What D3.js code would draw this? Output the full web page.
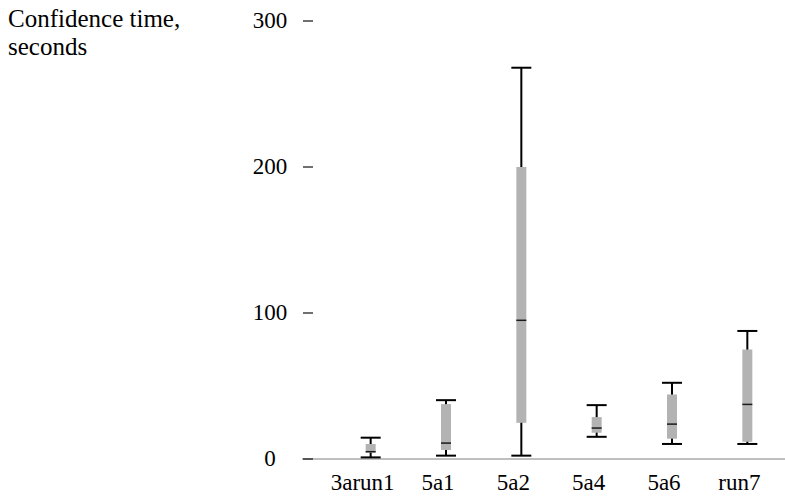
<!DOCTYPE html>
<html lang="en">
  <head>
    <meta charset="UTF-8" />
    <title>Confidence time box plot</title>
    <script src="https://d3js.org/d3.v7.min.js"></script>
    <style>
      body {
        margin: 0;
        background: #fff;
      }
      svg {
        display: block;
      }
    </style>
  </head>
  <body>
    <svg id="chart" width="785" height="498"></svg>

    <script>
      // data
      const categories = ["3arun1", "5a1", "5a2", "5a4", "5a6", "run7"];
      const whiskerLow = [1.1, 2.3, 2.3, 15.2, 10.3, 10.3];
      const q1 = [4.3, 6.2, 24.8, 18, 13.9, 11.8];
      const median = [5, 10.9, 95, 21.2, 23.9, 37.4];
      const q3 = [10.3, 37.6, 200, 28.7, 44.2, 75];
      const whiskerHigh = [14.6, 40.3, 268, 36.9, 52.2, 87.7];
      const yTicks = [0, 100, 200, 300];

      const FONT = "'Liberation Serif', 'Times New Roman', Times, serif";

      const svg = d3.select("#chart");

      const x = d3.scaleBand().domain(categories).range([333, 785]).padding(0);
      const y = d3.scaleLinear().domain([0, 300]).range([459, 21]);

      const rows = categories.map((c, i) => ({
        cat: c,
        lo: whiskerLow[i],
        q1: q1[i],
        med: median[i],
        q3: q3[i],
        hi: whiskerHigh[i],
      }));

      const cx = (d) => x(d.cat) + x.bandwidth() / 2;
      const boxW = 10;
      const capW = 20;

      function label(sel, size = 23) {
        sel
          .attr("font-family", FONT)
          .attr("font-size", size)
          .attr("fill", "#000");
      }

      // baseline
      svg
        .append("line")
        .attr("x1", 302)
        .attr("x2", 785)
        .attr("y1", y(0))
        .attr("y2", y(0))
        .attr("stroke", "#aaa")
        .attr("stroke-width", 1.5);

      // y ticks (little dashes) + labels
      const ty = svg.append("g").selectAll("g").data(yTicks).join("g");
      ty.append("line")
        .attr("x1", 303)
        .attr("x2", 313)
        .attr("y1", (d) => y(d))
        .attr("y2", (d) => y(d))
        .attr("stroke", "#111")
        .attr("stroke-width", 1.2);
      ty.append("text")
        .call(label)
        .attr("x", 270)
        .attr("y", (d) => y(d))
        .attr("dy", "0.32em")
        .attr("text-anchor", "middle")
        .text((d) => d);

      // axis title
      svg.append("text").call(label, 25).attr("x", 8).attr("y", 27).text("Confidence time,");
      svg.append("text").call(label, 25).attr("x", 8).attr("y", 55).text("seconds");

      // category labels
      svg
        .append("g")
        .selectAll("text")
        .data(categories)
        .join("text")
        .call(label)
        .attr("x", (d) => x(d) + x.bandwidth() / 2 - 8)
        .attr("y", 490)
        .attr("text-anchor", "middle")
        .text((d) => d);

      // boxes
      const g = svg.append("g").selectAll("g").data(rows).join("g");

      g.append("line")
        .attr("x1", cx)
        .attr("x2", cx)
        .attr("y1", (d) => y(d.lo))
        .attr("y2", (d) => y(d.hi))
        .attr("stroke", "#000")
        .attr("stroke-width", 2);

      g.selectAll(".cap")
        .data((d) => [d.lo, d.hi].map((v) => ({ v, c: cx(d) })))
        .join("line")
        .attr("class", "cap")
        .attr("x1", (d) => d.c - capW / 2)
        .attr("x2", (d) => d.c + capW / 2)
        .attr("y1", (d) => y(d.v))
        .attr("y2", (d) => y(d.v))
        .attr("stroke", "#000")
        .attr("stroke-width", 2);

      g.append("rect")
        .attr("x", (d) => cx(d) - boxW / 2)
        .attr("width", boxW)
        .attr("y", (d) => y(d.q3))
        .attr("height", (d) => y(d.q1) - y(d.q3))
        .attr("fill", "#b3b3b3");

      g.append("line")
        .attr("x1", (d) => cx(d) - boxW / 2)
        .attr("x2", (d) => cx(d) + boxW / 2)
        .attr("y1", (d) => y(d.med))
        .attr("y2", (d) => y(d.med))
        .attr("stroke", "#1a1a1a")
        .attr("stroke-width", 1.5);
    </script>
  </body>
</html>
